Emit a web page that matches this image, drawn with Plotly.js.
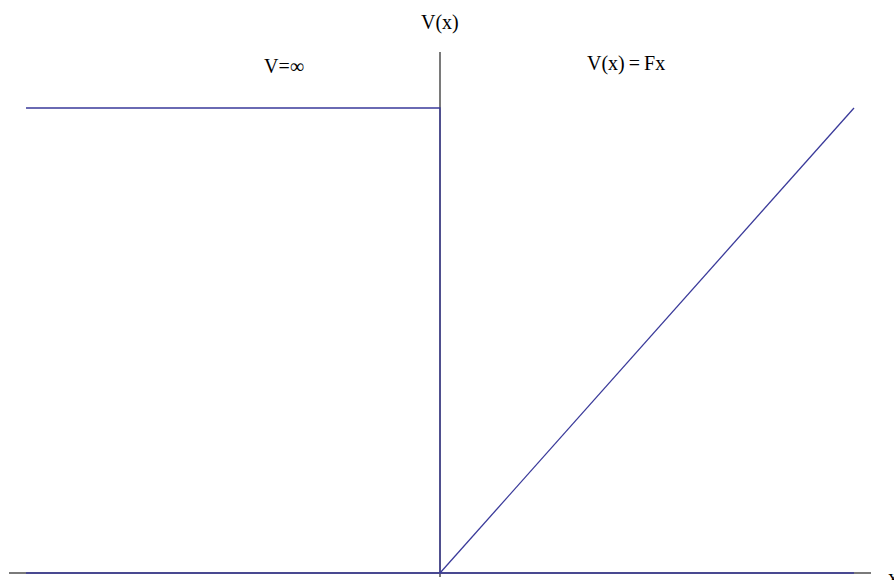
<!DOCTYPE html>
<html><head><meta charset="utf-8">
<script src="https://cdn.plot.ly/plotly-3.0.1.min.js"></script>
<style>html,body{margin:0;padding:0;background:#fff;}#chart{width:894px;height:580px;}</style>
</head><body><div id="chart"></div>
<script>
// Potential V(x): infinite wall for x<0, linear V=Fx for x>0
const wallX = [-1, 0, 0];
const wallY = [1, 1, 0];
const rampX = [0, 1];
const rampY = [0, 1];
const baseX = [-1, 1];
const baseY = [0, 0];
const labels = ["V=\u221e", "V(x)\u2009=\u2009Fx"];
const labelX = [-0.377, 0.449];
const labelY = [1.090, 1.095];

const lineStyle = {color: "#3a3a9a", width: 1.3};
const font = {family: "Liberation Serif, Times New Roman, serif", size: 20, color: "#000"};

const traces = [
  {x: baseX, y: baseY, mode: "lines", line: lineStyle, hoverinfo: "skip"},
  {x: wallX, y: wallY, mode: "lines", line: lineStyle, hoverinfo: "skip"},
  {x: rampX, y: rampY, mode: "lines", line: lineStyle, hoverinfo: "skip"}
];

const annotations = labels.map((t, i) => ({
  text: t, x: labelX[i], y: labelY[i], xref: "x", yref: "y",
  showarrow: false, font: font, xanchor: "center", yanchor: "middle"
}));
annotations.push({text: "V(x)", x: 0, y: 1, xref: "x", yref: "paper", yshift: 30,
  showarrow: false, font: font, xanchor: "center", yanchor: "middle"});
annotations.push({text: "x", x: 1, y: 0, xref: "paper", yref: "y", xshift: 15, yshift: -4,
  showarrow: false, font: font, xanchor: "left", yanchor: "middle"});

const layout = {
  width: 894, height: 580,
  margin: {l: 9, r: 23, t: 52, b: 3},
  paper_bgcolor: "#fff", plot_bgcolor: "#fff",
  showlegend: false,
  xaxis: {range: [-1.0411, 1.0411], showgrid: false, showticklabels: false, ticks: "",
    zeroline: true, zerolinecolor: "#7a7a7a", zerolinewidth: 1.5, showline: false, fixedrange: true},
  yaxis: {range: [-0.0086, 1.1204], showgrid: false, showticklabels: false, ticks: "",
    zeroline: true, zerolinecolor: "#7a7a7a", zerolinewidth: 1.5, showline: false, fixedrange: true},
  annotations: annotations
};

Plotly.newPlot("chart", traces, layout, {displayModeBar: false, staticPlot: true});
</script></body></html>
